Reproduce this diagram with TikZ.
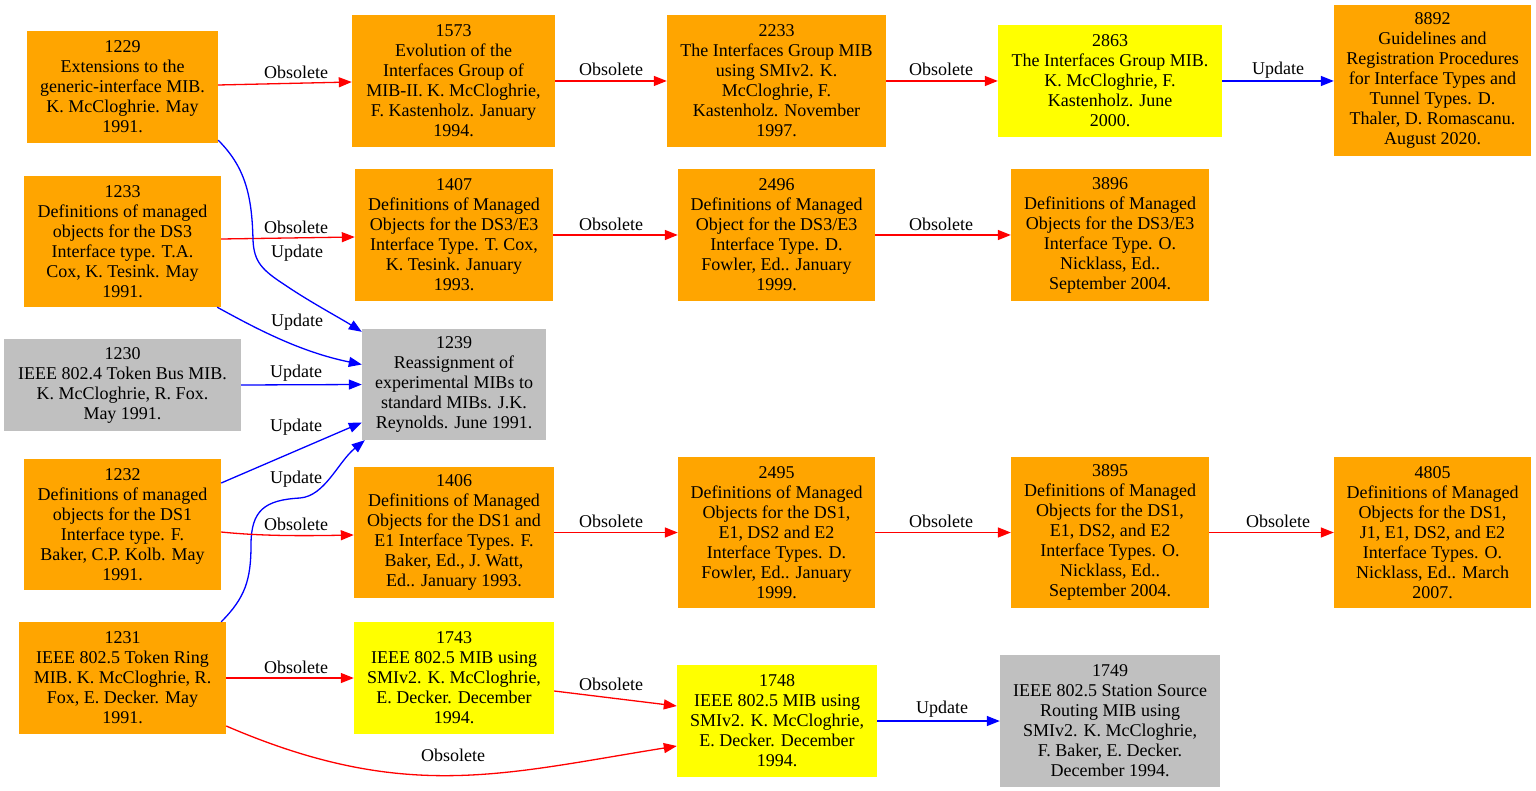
\documentclass[tikz,border=0pt]{standalone}
\usepackage{fontspec}
\setmainfont{Liberation Serif}
\usetikzlibrary{arrows.meta}
\definecolor{gvorange}{HTML}{FFA500}
\definecolor{gvyellow}{HTML}{FFFF00}
\definecolor{gvgray}{HTML}{C0C0C0}
\tikzset{
  doc/.style={rectangle, inner sep=0pt, align=center, font={\fontsize{18}{20}\selectfont}},
  ob/.style={doc, fill=gvorange},
  yb/.style={doc, fill=gvyellow},
  gb/.style={doc, fill=gvgray},
  lbl/.style={inner sep=0pt, font={\fontsize{18}{20}\selectfont}},
  obs/.style={draw=red, line width=1.3pt, -{Triangle[length=13pt,width=10pt]}, red},
  upd/.style={draw=blue, line width=1.3pt, -{Triangle[length=13pt,width=10pt]}, blue},
}
\begin{document}
\begin{tikzpicture}[x=1pt,y=-1pt]
\useasboundingbox[fill=white] (0,0) rectangle (1536,791);
% column 1
\node[ob, minimum width=191, minimum height=112] (n1229) at (122.5,87) {1229\\Extensions to the\\generic-interface MIB.\\K. McCloghrie. May\\1991.};
\node[ob, minimum width=197, minimum height=131] (n1233) at (122.5,241.5) {1233\\Definitions of managed\\objects for the DS3\\Interface type. T.A.\\Cox, K. Tesink. May\\1991.};
\node[gb, minimum width=237, minimum height=92] (n1230) at (122.5,385) {1230\\IEEE 802.4 Token Bus MIB.\\K. McCloghrie, R. Fox.\\May 1991.};
\node[ob, minimum width=197, minimum height=131] (n1232) at (122.5,524.5) {1232\\Definitions of managed\\objects for the DS1\\Interface type. F.\\Baker, C.P. Kolb. May\\1991.};
\node[ob, minimum width=207, minimum height=112] (n1231) at (122.5,678) {1231\\IEEE 802.5 Token Ring\\MIB. K. McCloghrie, R.\\Fox, E. Decker. May\\1991.};
% column 2
\node[ob, minimum width=203, minimum height=132] (n1573) at (453.5,81) {1573\\Evolution of the\\Interfaces Group of\\MIB-II. K. McCloghrie,\\F. Kastenholz. January\\1994.};
\node[ob, minimum width=198, minimum height=132] (n1407) at (454,235) {1407\\Definitions of Managed\\Objects for the DS3/E3\\Interface Type. T. Cox,\\K. Tesink. January\\1993.};
\node[gb, minimum width=184, minimum height=111] (n1239) at (454,384.5) {1239\\Reassignment of\\experimental MIBs to\\standard MIBs. J.K.\\Reynolds. June 1991.};
\node[ob, minimum width=200, minimum height=131] (n1406) at (454,532.5) {1406\\Definitions of Managed\\Objects for the DS1 and\\E1 Interface Types. F.\\Baker, Ed., J. Watt,\\Ed.. January 1993.};
\node[yb, minimum width=200, minimum height=112] (n1743) at (454,678) {1743\\IEEE 802.5 MIB using\\SMIv2. K. McCloghrie,\\E. Decker. December\\1994.};
% column 3
\node[ob, minimum width=219, minimum height=132] (n2233) at (776.5,81) {2233\\The Interfaces Group MIB\\using SMIv2. K.\\McCloghrie, F.\\Kastenholz. November\\1997.};
\node[ob, minimum width=197, minimum height=132] (n2496) at (776.5,235) {2496\\Definitions of Managed\\Object for the DS3/E3\\Interface Type. D.\\Fowler, Ed.. January\\1999.};
\node[ob, minimum width=197, minimum height=151] (n2495) at (776.5,532.5) {2495\\Definitions of Managed\\Objects for the DS1,\\E1, DS2 and E2\\Interface Types. D.\\Fowler, Ed.. January\\1999.};
\node[yb, minimum width=200, minimum height=112] (n1748) at (777,721) {1748\\IEEE 802.5 MIB using\\SMIv2. K. McCloghrie,\\E. Decker. December\\1994.};
% column 4
\node[yb, minimum width=224, minimum height=112] (n2863) at (1110,81) {2863\\The Interfaces Group MIB.\\K. McCloghrie, F.\\Kastenholz. June\\2000.};
\node[ob, minimum width=198, minimum height=132] (n3896) at (1110,235) {3896\\Definitions of Managed\\Objects for the DS3/E3\\Interface Type. O.\\Nicklass, Ed..\\September 2004.};
\node[ob, minimum width=198, minimum height=151] (n3895) at (1110,532.5) {3895\\Definitions of Managed\\Objects for the DS1,\\E1, DS2, and E2\\Interface Types. O.\\Nicklass, Ed..\\September 2004.};
\node[gb, minimum width=220, minimum height=132] (n1749) at (1110,720.5) {1749\\IEEE 802.5 Station Source\\Routing MIB using\\SMIv2. K. McCloghrie,\\F. Baker, E. Decker.\\December 1994.};
% column 5
\node[ob, minimum width=197, minimum height=151] (n8892) at (1432.5,80.5) {8892\\Guidelines and\\Registration Procedures\\for Interface Types and\\Tunnel Types. D.\\Thaler, D. Romascanu.\\August 2020.};
\node[ob, minimum width=197, minimum height=151] (n4805) at (1432.5,532.5) {4805\\Definitions of Managed\\Objects for the DS1,\\J1, E1, DS2, and E2\\Interface Types. O.\\Nicklass, Ed.. March\\2007.};

% edges row 1
\draw[obs] ([yshift=2]n1229.east) -- ([yshift=-1]n1573.west);
\draw[obs] (n1573.east) -- (n2233.west);
\draw[obs] (n2233.east) -- (n2863.west);
\draw[upd] (n2863.east) -- (n2863.east -| n8892.west);
% row 2
\draw[obs] ([yshift=2.5]n1233.east) -- ([yshift=-2]n1407.west);
\draw[obs] (n1407.east) -- (n2496.west);
\draw[obs] (n2496.east) -- (n3896.west);
% updates into 1239
\draw[upd] ([yshift=3]n1229.south east) .. controls (245,167) and (252,195) .. (253,240) .. controls (254,262) and (262,270) .. (285,285) .. controls (310,302) and (340,318) .. ([yshift=-3]n1239.north west);
\draw[upd] ([xshift=-4]n1233.south east) .. controls (255,328) and (300,352) .. ([yshift=20]n1239.west);
\draw[upd] (n1230.east) -- (n1239.west);
\draw[upd] ([yshift=41.5]n1232.east) -- ([yshift=-38]n1239.west);
\draw[upd] ([xshift=-5]n1231.north east) .. controls (245,598) and (251,580) .. (251,545) .. controls (251,510) and (265,500) .. (300,498) .. controls (325,496) and (338,462) .. ([xshift=3]n1239.south west);
% row DS1
\draw[obs] ([yshift=-7.5]n1232.east) .. controls (260,536) and (300,536) .. ([yshift=-2.5]n1406.west);
\draw[obs] (n1406.east) -- (n2495.west);
\draw[obs] (n2495.east) -- (n3895.west);
\draw[obs] (n3895.east) -- (n4805.west);
% row 802.5
\draw[obs] (n1231.east) -- (n1743.west);
\draw[obs] ([yshift=-13]n1743.east) -- ([yshift=15]n1748.west);
\draw[obs] ([yshift=-48]n1231.east) .. controls (405,803) and (502,774) .. ([yshift=-25]n1748.west);
\draw[upd] (n1748.east) -- (n1748.east -| n1749.west);

% labels
\node[lbl] (l1) at (296,72) {Obsolete};
\node[lbl] (l2) at (611,69) {Obsolete};
\node[lbl] (l3) at (941,69) {Obsolete};
\node[lbl] (l4) at (1278,70) {Update};
\node[lbl] (l5) at (296,227) {Obsolete};
\node[lbl] (l6) at (611,224) {Obsolete};
\node[lbl] (l7) at (941,224) {Obsolete};
\node[lbl] (l8) at (297,253) {Update};
\node[lbl] (l9) at (297,322) {Update};
\node[lbl] (l10) at (296,373) {Update};
\node[lbl] (l11) at (296,427) {Update};
\node[lbl] (l12) at (296,479) {Update};
\node[lbl] (l13) at (296,524) {Obsolete};
\node[lbl] (l14) at (611,521) {Obsolete};
\node[lbl] (l15) at (941,521) {Obsolete};
\node[lbl] (l16) at (1278,521) {Obsolete};
\node[lbl] (l17) at (296,667) {Obsolete};
\node[lbl] (l18) at (611,684) {Obsolete};
\node[lbl] (l19) at (453,755) {Obsolete};
\node[lbl] (l20) at (942,709) {Update};
\end{tikzpicture}
\end{document}
